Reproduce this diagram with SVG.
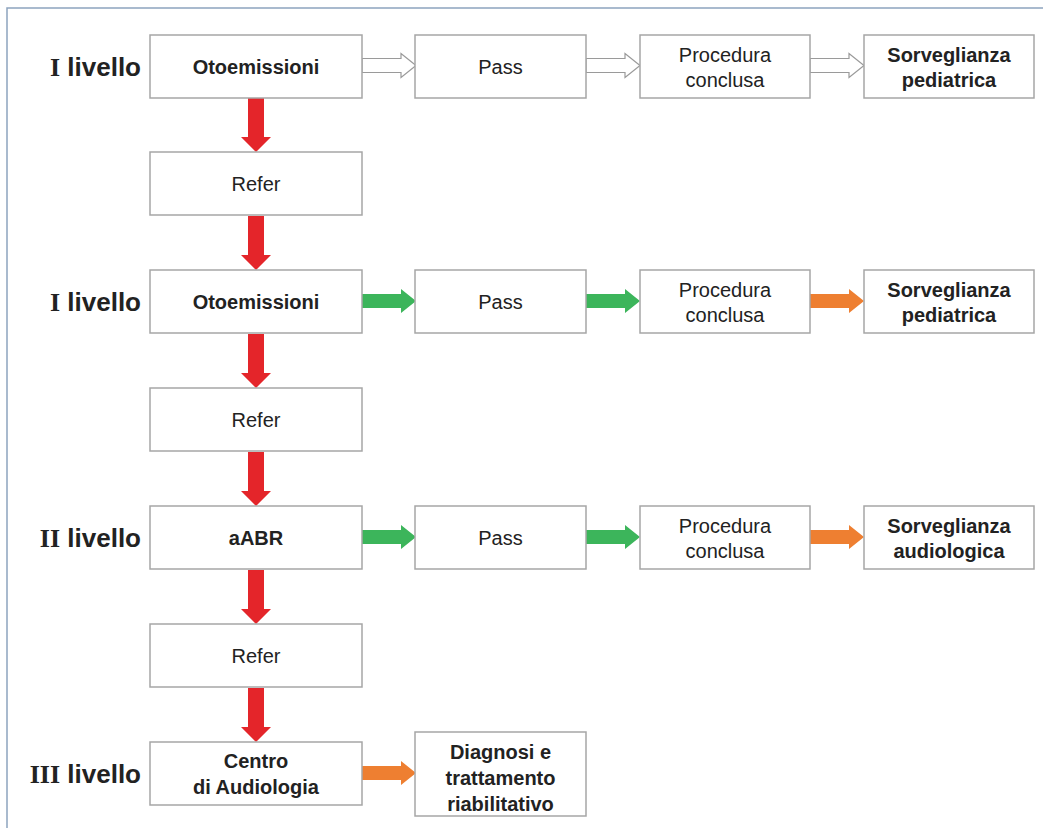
<svg xmlns="http://www.w3.org/2000/svg" width="1043" height="828" viewBox="0 0 1043 828">
<style>
.box{fill:#fff;stroke:#a6a6a6;stroke-width:1.5}
.t{font-family:"Liberation Sans",Arial,sans-serif;font-size:20px;fill:#222;text-anchor:middle}
.b{font-weight:bold}
.lab{font-family:"Liberation Sans",Arial,sans-serif;font-size:26px;font-weight:bold;fill:#222;text-anchor:end}
.rom{font-family:"Liberation Serif","Times New Roman",serif}
.red{fill:#e4252a}
.green{fill:#3cb55b}
.orange{fill:#ee7f31}
.white{fill:#fff;stroke:#9a9a9a;stroke-width:1.2}
</style>
<defs>
<path id="ha" d="M0,-7 H39 V-12 L54,0 L39,12 V7 H0 Z"/>
<path id="va" d="M-8,0 H8 V39 H15 L0,54 L-15,39 H-8 Z"/>
</defs>
<rect width="1043" height="828" fill="#fff"/>
<path d="M1043,8 H7 V828" fill="none" stroke="#8da4bf" stroke-width="1.5"/>

<g id="labels">
<text class="lab" x="141" y="76"><tspan class="rom">I</tspan> livello</text>
<text class="lab" x="141" y="311"><tspan class="rom">I</tspan> livello</text>
<text class="lab" x="141" y="547"><tspan class="rom">II</tspan> livello</text>
<text class="lab" x="141" y="783"><tspan class="rom">III</tspan> livello</text>
</g>

<g id="connectors">
<use href="#va" x="256" y="98" class="red"/>
<use href="#va" x="256" y="216" class="red"/>
<use href="#va" x="256" y="334" class="red"/>
<use href="#va" x="256" y="452" class="red"/>
<use href="#va" x="256" y="570" class="red"/>
<use href="#va" x="256" y="688" class="red"/>

<use href="#ha" x="362" y="65.5" class="white"/>
<use href="#ha" x="586" y="65.5" class="white"/>
<use href="#ha" x="810" y="65.5" class="white"/>

<use href="#ha" x="362" y="301" class="green"/>
<use href="#ha" x="586" y="301" class="green"/>
<use href="#ha" x="810" y="301" class="orange"/>

<use href="#ha" x="362" y="537" class="green"/>
<use href="#ha" x="586" y="537" class="green"/>
<use href="#ha" x="810" y="537" class="orange"/>

<use href="#ha" x="362" y="773" class="orange"/>
</g>

<g id="n1"><rect class="box" x="150" y="35" width="212" height="63"/><text class="t b" x="256" y="74">Otoemissioni</text></g>
<g id="n2"><rect class="box" x="415" y="35" width="171" height="63"/><text class="t" x="500.5" y="74">Pass</text></g>
<g id="n3"><rect class="box" x="640" y="35" width="170" height="63"/><text class="t" x="725" y="62">Procedura</text><text class="t" x="725" y="87">conclusa</text></g>
<g id="n4"><rect class="box" x="864" y="35" width="170" height="63"/><text class="t b" x="949" y="62">Sorveglianza</text><text class="t b" x="949" y="87">pediatrica</text></g>

<g id="n5"><rect class="box" x="150" y="152" width="212" height="63"/><text class="t" x="256" y="191">Refer</text></g>

<g id="n6"><rect class="box" x="150" y="270" width="212" height="63"/><text class="t b" x="256" y="309">Otoemissioni</text></g>
<g id="n7"><rect class="box" x="415" y="270" width="171" height="63"/><text class="t" x="500.5" y="309">Pass</text></g>
<g id="n8"><rect class="box" x="640" y="270" width="170" height="63"/><text class="t" x="725" y="297">Procedura</text><text class="t" x="725" y="322">conclusa</text></g>
<g id="n9"><rect class="box" x="864" y="270" width="170" height="63"/><text class="t b" x="949" y="297">Sorveglianza</text><text class="t b" x="949" y="322">pediatrica</text></g>

<g id="n10"><rect class="box" x="150" y="388" width="212" height="63"/><text class="t" x="256" y="427">Refer</text></g>

<g id="n11"><rect class="box" x="150" y="506" width="212" height="63"/><text class="t b" x="256" y="545">aABR</text></g>
<g id="n12"><rect class="box" x="415" y="506" width="171" height="63"/><text class="t" x="500.5" y="545">Pass</text></g>
<g id="n13"><rect class="box" x="640" y="506" width="170" height="63"/><text class="t" x="725" y="533">Procedura</text><text class="t" x="725" y="558">conclusa</text></g>
<g id="n14"><rect class="box" x="864" y="506" width="170" height="63"/><text class="t b" x="949" y="533">Sorveglianza</text><text class="t b" x="949" y="558">audiologica</text></g>

<g id="n15"><rect class="box" x="150" y="624" width="212" height="63"/><text class="t" x="256" y="663">Refer</text></g>

<g id="n16"><rect class="box" x="150" y="742" width="212" height="63"/><text class="t b" x="256" y="768">Centro</text><text class="t b" x="256" y="794">di Audiologia</text></g>
<g id="n17"><rect class="box" x="415" y="732" width="171" height="84"/><text class="t b" x="500.5" y="759">Diagnosi e</text><text class="t b" x="500.5" y="785">trattamento</text><text class="t b" x="500.5" y="811">riabilitativo</text></g>
</svg>
